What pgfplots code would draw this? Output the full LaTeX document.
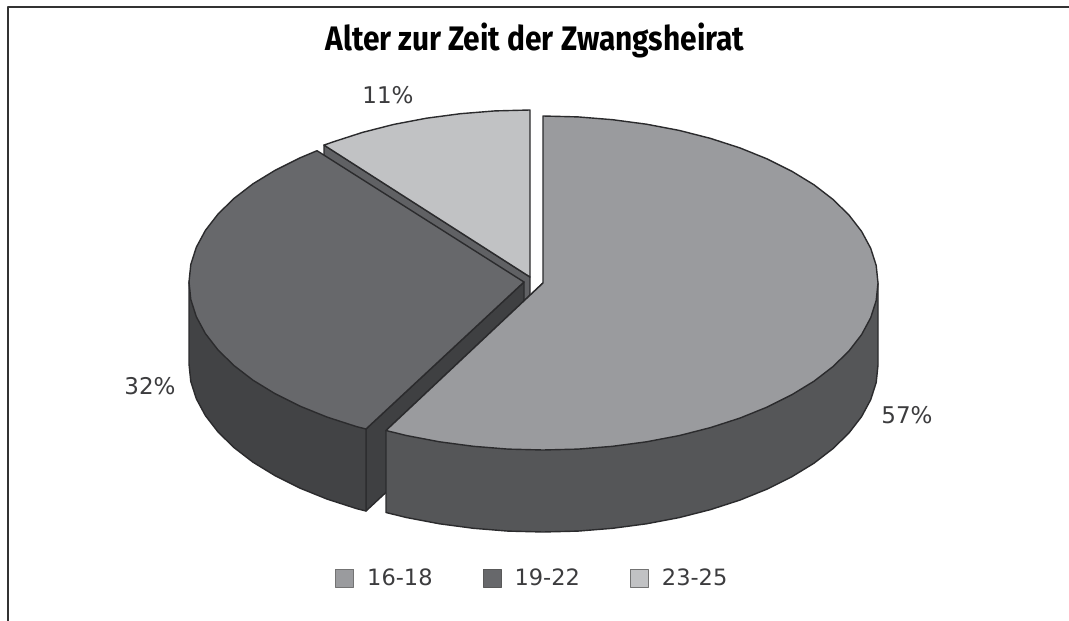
\documentclass[border=0pt]{standalone}
\usepackage{fontspec}
\usepackage{pgfplots}
\pgfplotsset{compat=1.18}
\setmainfont{DejaVu Sans}
\newfontfamily\titlefont[FakeStretch=0.88]{Fira Sans}

\definecolor{edge}{HTML}{2B2B2D}
\definecolor{topA}{HTML}{9A9B9E}
\definecolor{wallA}{HTML}{555658}
\definecolor{topB}{HTML}{67686B}
\definecolor{wallB}{HTML}{424345}
\definecolor{faceB}{HTML}{3F4042}
\definecolor{topC}{HTML}{C1C2C4}
\definecolor{faceC}{HTML}{606164}
\definecolor{txt}{HTML}{3C3C3E}

\begin{document}
\begin{tikzpicture}
\begin{axis}[
    width=1069pt, height=621pt, scale only axis,
    xmin=0, xmax=1069, ymin=0, ymax=621,
    y dir=reverse,
    hide axis,
    legend columns=3,
    legend cell align={left},
    legend style={
        at={(axis cs:335,578)}, anchor=west,
        draw=none, fill=none, inner sep=0pt,
        font=\fontsize{22.5}{26}\selectfont,
        text=txt,
        /tikz/column 1/.style={column sep=11pt},
        /tikz/column 2/.style={column sep=48pt},
        /tikz/column 3/.style={column sep=11pt},
        /tikz/column 4/.style={column sep=48pt},
        /tikz/column 5/.style={column sep=11pt},
    },
    legend image code/.code={
        \draw[#1] (0pt,-9pt) rectangle (18pt,9pt);
    },
    every axis plot/.append style={line join=round, line width=1.4pt, draw=edge},
]
% page background
\addplot[forget plot, fill=white, draw=none] coordinates {(0,0) (1069,0) (1069,621) (0,621)} -- cycle;
% frame: top and left only
\addplot[forget plot, draw=black!80, line width=2pt] coordinates {(1069,6.5) (8,6.5) (8,621)};

% 23-25 (11%), back slice
\addplot[forget plot, fill=faceC] coordinates {(324,145) (530,277) (530,359) (324,227)} -- cycle;
\addplot[forget plot, fill=topC] coordinates {
    (530,110) (495,110.9) (460.4,113.7) (426.5,118.2) (393.8,124.4)
    (362.5,132.4) (333.1,141.9) (324,145.1) (530,277)} -- cycle;

% 19-22 (32%)
\addplot[forget plot, fill=faceB] coordinates {(524,282) (366,429) (366,511) (524,364)} -- cycle;
\addplot[forget plot, fill=wallB] coordinates {
    (189,282) (189,364) (190.8,381.5) (196.3,398.7) (205.4,415.6) (218,431.9)
    (233.9,447.5) (253,462.2) (275.1,475.7) (299.9,488.1) (327.1,499.1)
    (356.5,508.6) (366,511) (366,429)} -- cycle;
\addplot[forget plot, fill=topB] coordinates {
    (317,150.7) (299.9,157.9) (275.1,170.3) (253,183.8) (233.9,198.5) (218,214.1)
    (205.4,230.4) (196.3,247.3) (190.8,264.5) (189,282) (190.8,299.5) (196.3,316.7)
    (205.4,333.6) (218,349.9) (233.9,365.5) (253,380.2) (275.1,393.7) (299.9,406.1)
    (327.1,417.1) (356.5,426.6) (366,429) (524,282)} -- cycle;

% 16-18 (57%)
\addplot[forget plot, fill=wallA] coordinates {
    (878,283) (878,365) (876.2,382.5) (870.7,399.7) (861.6,416.6) (849,432.9)
    (833.1,448.5) (814,463.2) (791.9,476.7) (767.1,489.1) (739.9,500.1) (710.5,509.6)
    (679.2,517.6) (646.5,523.8) (612.6,528.3) (578,531.1) (543,532) (508,531.1)
    (473.4,528.3) (439.5,523.8) (406.8,517.6) (386,512.5) (386,430.5) (543,283)} -- cycle;
\addplot[forget plot, fill=topA] coordinates {
    (543,116) (578,116.9) (612.6,119.7) (646.5,124.2) (679.2,130.4) (710.5,138.4)
    (739.9,147.9) (767.1,158.9) (791.9,171.3) (814,184.8) (833.1,199.5) (849,215.1)
    (861.6,231.4) (870.7,248.3) (876.2,265.5) (878,283) (876.2,300.5) (870.7,317.7)
    (861.6,334.6) (849,350.9) (833.1,366.5) (814,381.2) (791.9,394.7) (767.1,407.1)
    (739.9,418.1) (710.5,427.6) (679.2,435.6) (646.5,441.8) (612.6,446.3) (578,449.1)
    (543,450) (508,449.1) (473.4,446.3) (439.5,441.8) (406.8,435.6) (386,430.5)
    (543,283)} -- cycle;

% legend
\addlegendimage{fill=topA, draw=gray!90!black, line width=1pt}
\addlegendentry{16-18}
\addlegendimage{fill=topB, draw=gray!70!black, line width=1pt}
\addlegendentry{19-22}
\addlegendimage{fill=topC, draw=gray!90!black, line width=1pt}
\addlegendentry{23-25}

% title and percentages
\node[font=\titlefont\bfseries\fontsize{34}{38}\selectfont, text=black] at (axis cs:535,40) {Alter zur Zeit der Zwangsheirat};
\node[font=\fontsize{23}{26}\selectfont, text=txt] at (axis cs:388,95) {11\%};
\node[font=\fontsize{23}{26}\selectfont, text=txt] at (axis cs:150,386) {32\%};
\node[font=\fontsize{23}{26}\selectfont, text=txt] at (axis cs:907,415) {57\%};
\end{axis}
\end{tikzpicture}
\end{document}
